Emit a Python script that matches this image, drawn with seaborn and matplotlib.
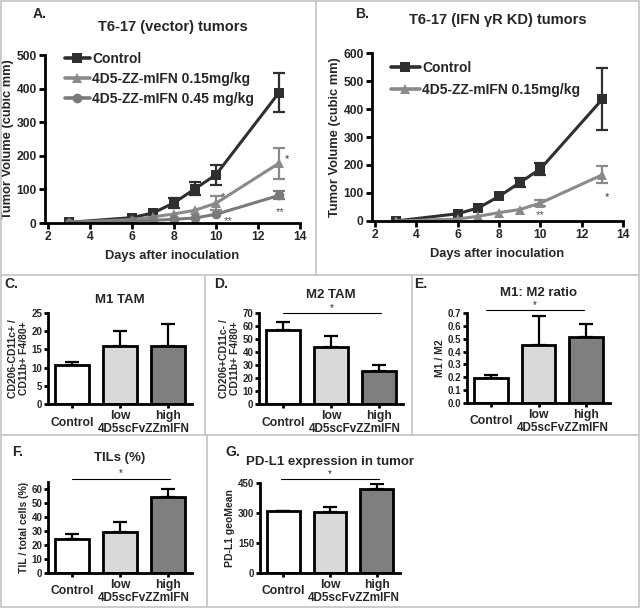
import numpy as np
import pandas as pd
import seaborn as sns
import matplotlib.pyplot as plt
from matplotlib.lines import Line2D
from matplotlib.transforms import ScaledTranslation

sns.set_style("ticks")
plt.rcParams['font.family'] = ['Liberation Sans', 'DejaVu Sans']
plt.rcParams['font.weight'] = 'bold'
plt.rcParams['axes.labelweight'] = 'bold'
plt.rcParams['axes.titleweight'] = 'bold'

# tumor growth data (A)
days = [3, 6, 7, 8, 9, 10, 13]
a_ctrl = [2, 16, 30, 60, 102, 144, 388]
a_ctrl_err = [0, 0, 0, 14, 20, 30, 57]
a_low = [2, 10, 18, 27, 38, 59, 178]
a_low_err = [0, 0, 0, 0, 0, 20, 46]
a_high = [0, 5, 8, 11, 15, 26, 82]
a_high_err = [0, 0, 0, 0, 0, 0, 12]

# tumor growth data (B)
b_ctrl = [0, 26, 47, 88, 137, 186, 435]
b_ctrl_err = [0, 0, 0, 0, 15, 22, 110]
b_low = [0, 7, 17, 30, 41, 64, 165]
b_low_err = [0, 0, 0, 0, 0, 10, 30]

a_labels = ["Control", "4D5-ZZ-mIFN 0.15mg/kg", "4D5-ZZ-mIFN 0.45 mg/kg"]
b_labels = ["Control", "4D5-ZZ-mIFN 0.15mg/kg"]

# bar panels
groups = ["Control", "low", "high"]
m1 = [10.6, 15.8, 15.8]
m1_err = [1.0, 4.3, 6.2]
m2 = [57, 44, 25.5]
m2_err = [6, 8.5, 4.5]
ratio = [0.193, 0.45, 0.515]
ratio_err = [0.023, 0.227, 0.10]
tils = [24.6, 29, 54.2]
tils_err = [3.1, 7.5, 6.0]
pdl1 = [308, 307, 421]
pdl1_err = [2, 25, 23]

W, H = 640, 610
fig = plt.figure(figsize=(6.4, 6.1), dpi=100)


def box(l, t, r, b):
    return [l / W, 1 - b / H, (r - l) / W, (b - t) / H]


def fig_line(x0, y0, x1, y1):
    fig.add_artist(Line2D([x0 / W, x1 / W], [1 - y0 / H, 1 - y1 / H],
                          transform=fig.transFigure, color='#c4c4c4', lw=1.2))


# panel frames
fig_line(1, 1, 639, 1)
fig_line(1, 1, 1, 607)
fig_line(639, 1, 639, 607)
fig_line(1, 607, 639, 607)
fig_line(1, 275, 639, 275)
fig_line(316, 1, 316, 275)
fig_line(1, 435, 639, 435)
fig_line(205, 275, 205, 435)
fig_line(412, 275, 412, 435)
fig_line(207, 435, 207, 607)


def style_axes(ax, fs=9):
    sns.despine(ax=ax)
    for s in ['left', 'bottom']:
        ax.spines[s].set_linewidth(2)
        ax.spines[s].set_color('black')
    ax.tick_params(width=2, length=4, labelsize=fs, color='black', pad=2)
    for lab in ax.get_xticklabels() + ax.get_yticklabels():
        lab.set_fontweight('bold')


def growth(ax, series, errs, labels, colors, markers, ylim, ystep):
    rows = []
    for lab, vals in zip(labels, series):
        for d, v in zip(days, vals):
            rows.append({'day': d, 'vol': v, 'group': lab})
    df = pd.DataFrame(rows)
    sns.lineplot(data=df, x='day', y='vol', hue='group', style='group',
                 palette=dict(zip(labels, colors)),
                 markers=dict(zip(labels, markers)), dashes=False,
                 linewidth=2.2, markersize=7, markeredgewidth=0, ax=ax)
    for vals, e, c in zip(series, errs, colors):
        d = np.array(days)
        v = np.array(vals)
        e = np.array(e)
        m = e > 0
        ax.errorbar(d[m], v[m], yerr=e[m], fmt='none', ecolor=c,
                    elinewidth=1.6, capsize=4, capthick=1.6)
    ax.set_xlim(1.85, 14)
    ax.set_ylim(0, ylim)
    ax.set_xticks(range(2, 15, 2))
    ax.set_yticks(range(0, ylim + 1, ystep))
    ax.set_xlabel("Days after inoculation", fontsize=9.3, labelpad=5)
    ax.set_ylabel("Tumor Volume (cubic mm)", fontsize=9.3, labelpad=2)
    style_axes(ax, 8.7)
    h, l = ax.get_legend_handles_labels()
    for hh in h:
        hh.set_linewidth(2.6)
    return h, l


# A
axA = fig.add_axes(box(45, 55, 300, 223))
h, l = growth(axA, [a_ctrl, a_low, a_high], [a_ctrl_err, a_low_err, a_high_err],
              a_labels, ['#2f2f2f', '#8a8a8a', '#7a7a7a'], ['s', '^', 'o'], 500, 100)
axA.legend(h, l, loc='upper left', bbox_to_anchor=(59 / W, 1 - 46 / H),
           bbox_transform=fig.transFigure, frameon=False,
           handlelength=1.8, handletextpad=0.2, labelspacing=0.45, borderaxespad=0,
           prop={'weight': 'bold', 'size': 10})
axA.text(13.4, 190, '*', ha='center', va='center', fontsize=8, color='#333333', fontweight='normal')
axA.text(10.35, 76, '*', ha='center', va='center', fontsize=8, color='#333333', fontweight='normal')
axA.text(13.05, 32, '**', ha='center', va='center', fontsize=8, color='#555555', fontweight='normal')
axA.text(10.6, 6, '**', ha='center', va='center', fontsize=8, color='#555555', fontweight='normal')
axA.set_title("T6-17 (vector) tumors", fontsize=10.5, pad=17)
fig.text(33 / W, 1 - 14 / H, "A.", fontsize=10, fontweight='bold', va='center')

# B
axB = fig.add_axes(box(372, 53, 623, 221))
h, l = growth(axB, [b_ctrl, b_low], [b_ctrl_err, b_low_err], b_labels,
              ['#2f2f2f', '#8a8a8a'], ['s', '^'], 600, 100)
axB.legend(h, l, loc='upper left', bbox_to_anchor=(385 / W, 1 - 55 / H),
           bbox_transform=fig.transFigure, frameon=False,
           handlelength=2.1, handletextpad=0.2, labelspacing=0.6, borderaxespad=0,
           prop={'weight': 'bold', 'size': 10})
axB.text(10.0, 22, '**', ha='center', va='center', fontsize=8, color='#555555', fontweight='normal')
axB.text(13.2, 87, '*', ha='center', va='center', fontsize=8, color='#333333', fontweight='normal')
axB.set_title("T6-17 (IFN γR KD) tumors", fontsize=10.5, pad=21)
fig.text(355 / W, 1 - 14 / H, "B.", fontsize=10, fontweight='bold', va='center')

bar_colors = ['white', '#d9d9d9', '#7f7f7f']


def bars(ax, vals, errs, ylim, yticks, ylabel, title, tpad, sig=None, fmt=None):
    sns.barplot(x=groups, y=vals, hue=groups, palette=bar_colors, legend=False,
                edgecolor='black', linewidth=2, width=0.7, ax=ax, zorder=2)
    ax.errorbar(range(3), vals, yerr=[np.zeros(3), errs], fmt='none', ecolor='black',
                elinewidth=1.6, capsize=5, capthick=1.6, zorder=1)
    ax.set_xlim(-0.5, 2.5)
    ax.set_ylim(0, ylim)
    ax.set_yticks(yticks)
    if fmt:
        ax.set_yticklabels([fmt % t for t in yticks])
    ax.set_xlabel("")
    ax.set_ylabel(ylabel, fontsize=7.5, labelpad=2, linespacing=1.1)
    ax.set_title(title, fontsize=9.5, pad=tpad)
    style_axes(ax, 7)
    ax.tick_params(axis='x', labelsize=8.7, length=3, pad=1.5)
    ax.tick_params(axis='y', length=3, pad=1)
    for lab in ax.get_xticklabels():
        lab.set_fontweight('bold')
    ctrl = ax.get_xticklabels()[0]
    ctrl.set_transform(ctrl.get_transform() + ScaledTranslation(0, -4.5 / 72, fig.dpi_scale_trans))
    ax.annotate("4D5scFvZZmIFN", xy=(1.5, 0), xycoords=('data', 'axes fraction'),
                xytext=(0, -13.5), textcoords='offset points', ha='center', va='top',
                fontsize=8.5, fontweight='bold')
    if sig is not None:
        x0, x1, y = sig
        ax.plot([x0, x1], [y, y], color='black', lw=0.8, clip_on=False)
        ax.text((x0 + x1) / 2, y, '*', ha='center', va='bottom', fontsize=7,
                fontweight='normal')


axC = fig.add_axes(box(48, 313, 192, 404))
bars(axC, m1, m1_err, 25, range(0, 26, 5), "CD206-CD11c+ /\nCD11b+ F4/80+", "M1 TAM", 7)
fig.text(4 / W, 1 - 284 / H, "C.", fontsize=10, fontweight='bold', va='center')

axD = fig.add_axes(box(259, 313, 403, 404))
bars(axD, m2, m2_err, 70, range(0, 71, 10), "CD206+CD11c- /\nCD11b+ F4/80+", "M2 TAM", 11,
     sig=(0.0, 2.05, 70))
fig.text(214 / W, 1 - 284 / H, "D.", fontsize=10, fontweight='bold', va='center')

axE = fig.add_axes(box(467, 313, 610, 403))
bars(axE, ratio, ratio_err, 0.7, np.arange(0, 0.71, 0.1), "M1 / M2", "M1: M2 ratio", 12,
     sig=(-0.1, 1.95, 0.725), fmt='%.1f')
fig.text(414 / W, 1 - 284 / H, "E.", fontsize=10, fontweight='bold', va='center')

axF = fig.add_axes(box(48, 482, 192, 573))
bars(axF, tils, tils_err, 65, range(0, 61, 10), "TIL / total cells (%)", "TILs (%)", 15,
     sig=(0.0, 2.05, 67.5))
fig.text(12 / W, 1 - 452 / H, "F.", fontsize=10, fontweight='bold', va='center')

axG = fig.add_axes(box(260, 483, 400, 573))
bars(axG, pdl1, pdl1_err, 450, range(0, 451, 150), "PD-L1 geoMean", "PD-L1 expression in tumor", 13,
     sig=(-0.05, 2.05, 471))
fig.text(225 / W, 1 - 452 / H, "G.", fontsize=10, fontweight='bold', va='center')

fig.savefig("out.png", dpi=100, facecolor='white')
